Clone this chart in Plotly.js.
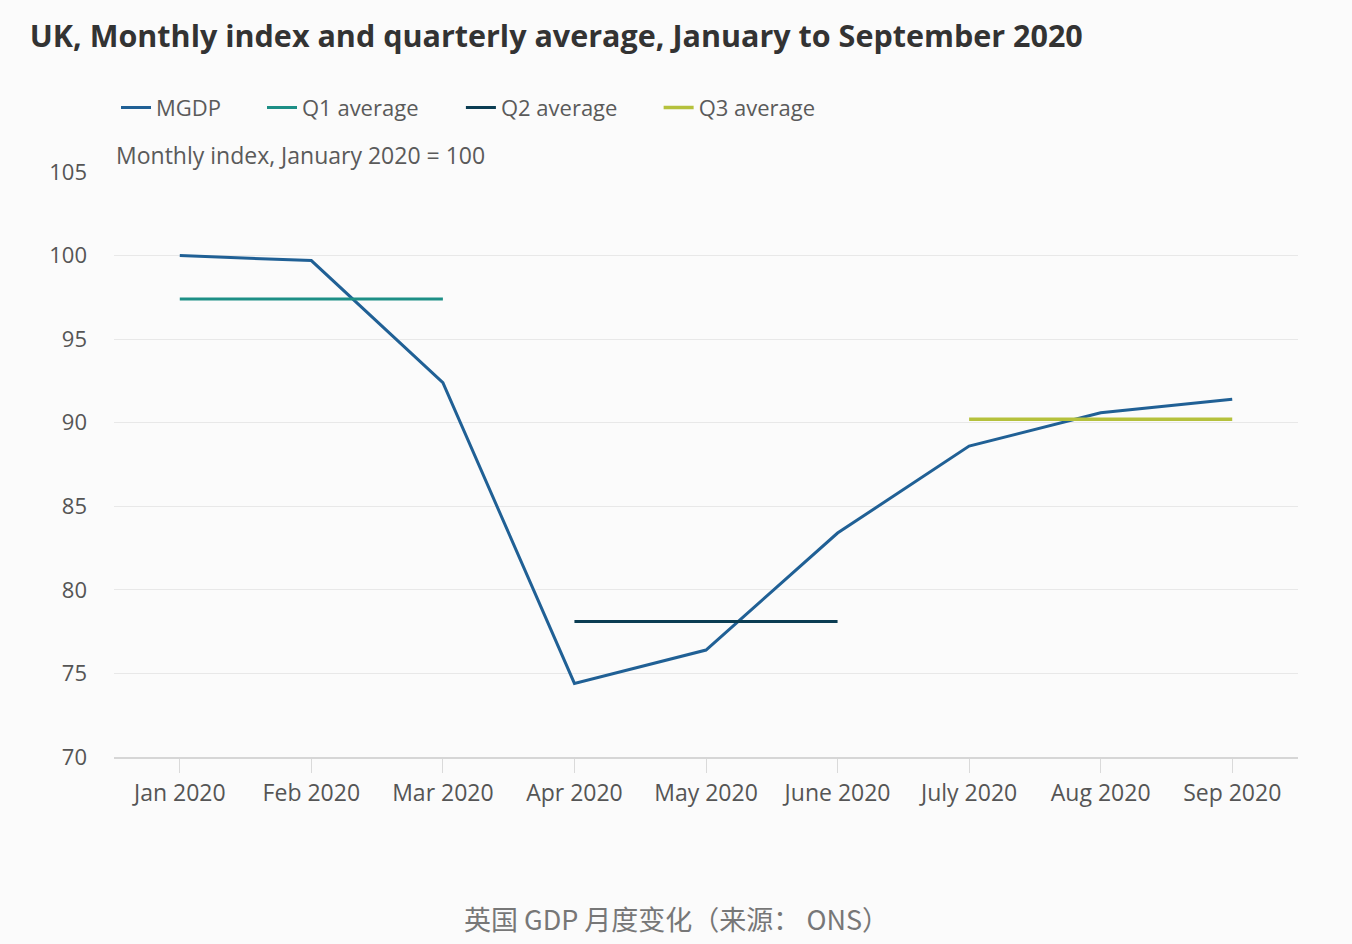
<!DOCTYPE html>
<html><head><meta charset="utf-8">
<script src="https://cdn.plot.ly/plotly-3.0.1.min.js"></script>
<style>html,body{margin:0;padding:0;background:#fbfbfb;}#chart{width:1352px;height:944px;}</style>
</head><body><div id="chart"></div>
<script>
const months = ["Jan 2020","Feb 2020","Mar 2020","Apr 2020","May 2020","June 2020","July 2020","Aug 2020","Sep 2020"];
const mgdp = [100.0, 99.7, 92.4, 74.4, 76.4, 83.4, 88.6, 90.6, 91.4];
const q1Months = ["Jan 2020","Mar 2020"];
const q1Avg = [97.4, 97.4];
const q2Months = ["Apr 2020","June 2020"];
const q2Avg = [78.1, 78.1];
const q3Months = ["July 2020","Sep 2020"];
const q3Avg = [90.2, 90.2];
const yTicks = [70,75,80,85,90,95,100,105];

const font = "'Open Sans', 'Noto Sans', sans-serif";
const traces = [
  {x: months, y: mgdp, name: "MGDP", mode: "lines", line:{color:"#206095", width:3}, legend:"legend"},
  {x: q1Months, y: q1Avg, name: "Q1 average", mode: "lines", line:{color:"#1d8f86", width:3}, legend:"legend2"},
  {x: q2Months, y: q2Avg, name: "Q2 average", mode: "lines", line:{color:"#0b3d53", width:3}, legend:"legend3"},
  {x: q3Months, y: q3Avg, name: "Q3 average", mode: "lines", line:{color:"#b5c13c", width:3.5}, legend:"legend4"}
];
function leg(x){
  return {orientation:"h", x:x, xanchor:"left", y:1.11, yanchor:"middle", font:{family:font, size:22, color:"#5a5a5a"}, itemwidth:30, bgcolor:"rgba(0,0,0,0)"};
}
const layout = {
  width:1352, height:944,
  paper_bgcolor:"#fbfbfb", plot_bgcolor:"#fbfbfb",
  margin:{l:114, r:54, t:172, b:187},
  font:{family:font, color:"#555", size:22},
  title:{text:"<b>UK, Monthly index and quarterly average, January to September 2020</b>", x:0.022, xanchor:"left", y:0.961, yanchor:"middle", font:{family:font, size:30.5, color:"#333"}},
  showlegend:true,
  legend:leg(0.0017), legend2:leg(0.125), legend3:leg(0.293), legend4:leg(0.460),
  xaxis:{type:"category", categoryarray:months, range:[-0.5,8.5], showgrid:false, showline:true, linecolor:"#d6d6d6", linewidth:2, ticks:"outside", ticklen:14, tickcolor:"#dadada", tickwidth:1, tickfont:{family:font, size:23, color:"#555"}, fixedrange:true},
  yaxis:{range:[70,105], tickvals:yTicks, ticktext:yTicks.map(String), showgrid:true, gridcolor:"#e8e8e8", gridwidth:1, zeroline:false, showline:false, ticks:"", ticklabelstandoff:26, tickfont:{family:font, size:22, color:"#555"}, fixedrange:true},
  annotations:[
    {text:"Monthly index, January 2020 = 100", xref:"paper", yref:"paper", x:0.0, y:1.029, xanchor:"left", yanchor:"middle", showarrow:false, font:{family:font, size:23, color:"#5a5a5a"}},
    {text:"英国 GDP 月度变化（来源： ONS）", xref:"paper", yref:"paper", x:0.4755, y:-0.276, xanchor:"center", yanchor:"middle", showarrow:false, font:{family:"'Noto Sans CJK SC', sans-serif", size:27, color:"#777"}}
  ]
};
Plotly.newPlot("chart", traces, layout, {displayModeBar:false, staticPlot:true});
</script></body></html>
